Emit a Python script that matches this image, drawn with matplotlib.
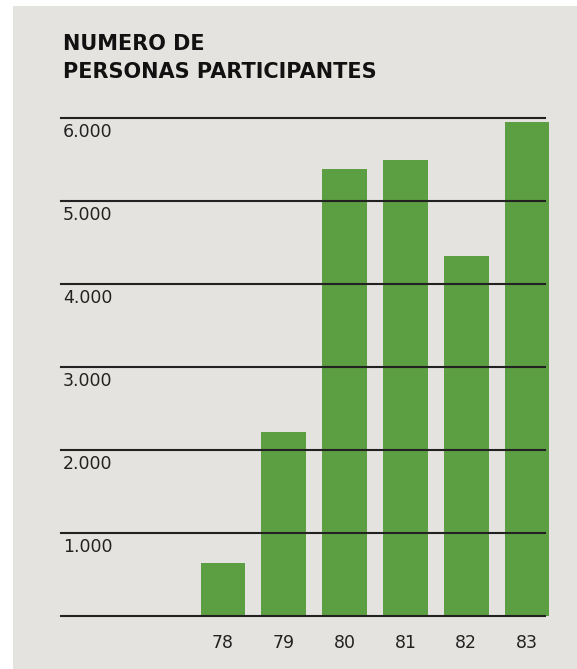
import matplotlib
matplotlib.use("Agg")
import matplotlib.pyplot as plt
from matplotlib.patches import Rectangle

# Data
years = ["78", "79", "80", "81", "82", "83"]
participants = [640, 2220, 5390, 5500, 4340, 5950]
grid_values = [1000, 2000, 3000, 4000, 5000, 6000]
grid_labels = ["1.000", "2.000", "3.000", "4.000", "5.000", "6.000"]

W, H = 577, 669
bg = "#e5e3df"
green = "#5c9e42"
ink = "#222222"

fig = plt.figure(figsize=(W / 100, H / 100), dpi=100)
fig.patch.set_facecolor("white")
fig.patches.append(Rectangle((13 / W, 0), 1 - 13 / W, 1 - 6 / H, transform=fig.transFigure,
                             facecolor=bg, edgecolor="none", zorder=-10))

# axes: baseline at y=616 px, 6000 line at y=118 px, lines from x=61 to 545
left, right = 61, 545
ax = fig.add_axes([left / W, (H - 616) / H, (right - left) / W, (616 - 118) / H])
ax.set_facecolor("none")
for s in ax.spines.values():
    s.set_visible(False)
ax.set_xticks([])
ax.set_yticks([])

px_per_unit = 60.8
x = list(range(len(years)))
ax.set_xlim(-(223 - left) / px_per_unit, 5 + (right - 527) / px_per_unit)
ax.set_ylim(0, 6000)

ax.bar(x, participants, width=0.74, color=green, zorder=2, clip_on=False)

ax.axhline(0, color=ink, lw=1.5, zorder=3, clip_on=False)
for v, lab in zip(grid_values, grid_labels):
    ax.axhline(v, color=ink, lw=1.5, zorder=3, clip_on=False)
    ax.annotate(lab, xy=(0, v), xycoords=("axes fraction", "data"),
                xytext=(1.5, -13.7), textcoords="offset points",
                ha="left", va="baseline", fontsize=12.5, color=ink)

for xi, y in zip(x, years):
    ax.annotate(y, xy=(xi, 0), xycoords="data", xytext=(0, -23), textcoords="offset points",
                ha="center", va="baseline", fontsize=12.5, color=ink)

fig.text(63 / W, 1 - 50 / H, "NUMERO DE", fontsize=15, fontweight="bold", color="#111111", va="baseline")
fig.text(63 / W, 1 - 78 / H, "PERSONAS PARTICIPANTES", fontsize=15, fontweight="bold", color="#111111", va="baseline")

fig.savefig("out.png", dpi=100, facecolor=fig.get_facecolor())
